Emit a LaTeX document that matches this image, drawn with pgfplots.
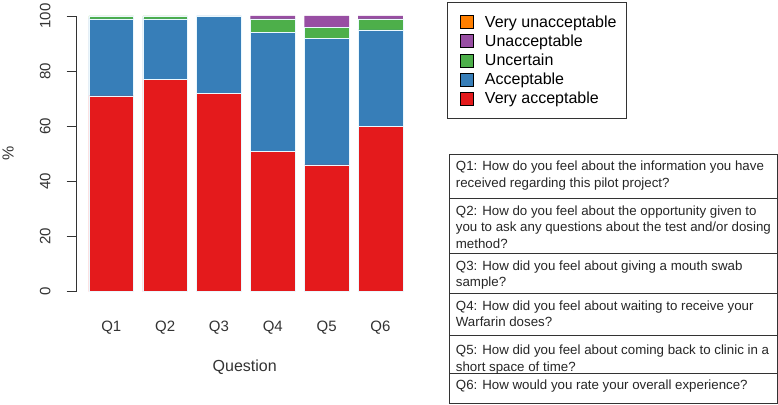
\documentclass[border=0pt]{standalone}
\usepackage{pgfplots}
\pgfplotsset{compat=1.18}
\usepackage{fontspec}
\setmainfont{Liberation Sans}
\definecolor{cRed}{HTML}{E41A1C}
\definecolor{cBlue}{HTML}{377EB8}
\definecolor{cGreen}{HTML}{4DAF4A}
\definecolor{cPurple}{HTML}{984EA3}
\definecolor{cOrange}{HTML}{FF7F00}
\definecolor{axgray}{HTML}{333333}
\begin{document}
\begin{tikzpicture}
\useasboundingbox (0pt,0pt) rectangle (778pt,404pt);
\begin{axis}[
  at={(76.7pt,112.3pt)}, anchor=south west,
  scale only axis, width=336.1pt, height=275.7pt,
  xmin=0.357, xmax=6.6, ymin=0, ymax=100,
  ybar stacked, bar width=0.83,
  /pgf/number format/assume math mode=true,
  axis y line=left, axis x line=bottom,
  x axis line style={draw=none},
  y axis line style={-, line width=0.9pt, axgray},
  xtick={1,2,3,4,5,6}, xticklabels={Q1,Q2,Q3,Q4,Q5,Q6},
  xtick style={draw=none},
  ytick={0,20,40,60,80,100},
  ytick style={line width=0.9pt, axgray},
  tick align=outside, major tick length=10pt,
  yticklabel shift=16pt,
  yticklabel style={rotate=90, anchor=south, inner sep=0pt, font=\fontsize{15}{15}\selectfont, text=axgray},
  xticklabel style={anchor=base, inner sep=0pt, yshift=-30pt, font=\fontsize{15}{15}\selectfont, text=axgray},
  xlabel={Question},
  xlabel style={at={(axis description cs:0.5,0)}, anchor=base, yshift=-80pt, font=\fontsize{16}{16}\selectfont, text=axgray},
  ylabel={\%},
  ylabel style={at={(axis description cs:-0.204,0.5)}, anchor=center, font=\fontsize{16}{16}\selectfont, text=axgray},
  reverse legend,
  legend image code/.code={\path (-4.8pt,0pt); \draw[#1, draw=black, line width=0.6pt] (0pt,-6.5pt) rectangle (13pt,6.5pt);},
  legend style={at={(1.1009,1.0519)}, anchor=north west, draw=axgray, line width=0.8pt,
    font=\fontsize{16}{16}\selectfont, inner xsep=8pt, inner ysep=12pt,
    nodes={inner sep=1.5pt}, column sep=10pt, row sep=3pt, cells={anchor=west}},
  every axis plot/.append style={draw=white!92!cyan, line width=0.5pt},
]
\addplot[fill=cRed] coordinates {(1,71) (2,77) (3,72) (4,51) (5,46) (6,60)};
\addplot[fill=cBlue] coordinates {(1,28) (2,22) (3,28) (4,43) (5,46) (6,35)};
\addplot[fill=cGreen] coordinates {(1,1) (2,1) (3,0) (4,5) (5,4) (6,4)};
\addplot[fill=cPurple, draw=none] coordinates {(1,0) (2,0) (3,0) (4,1) (5,4) (6,1)};
\addplot[fill=cOrange, draw=none] coordinates {(1,0) (2,0) (3,0) (4,0) (5,0) (6,0)};
\legend{Very acceptable, Acceptable, Uncertain, Unacceptable, Very unacceptable}
\end{axis}
% question table
\draw[axgray, line width=0.8pt] (449pt,250pt) rectangle (777.3pt,0.8pt);
\foreach \yy in {205.7,150.7,110.7,68.3,30.7} {
  \draw[axgray, line width=0.8pt] (449pt,\yy pt) -- (777.3pt,\yy pt);
}
\begin{scope}[every node/.style={anchor=base west, align=left, inner sep=0pt, font=\fontsize{13.3}{16.5}\selectfont, text=black!85}]
\node at (455.7pt,216.5pt) {Q1: How do you feel about the information you have\\received regarding this pilot project?};
\node at (455.7pt,155.7pt) {Q2: How do you feel about the opportunity given to\\you to ask any questions about the test and/or dosing\\method?};
\node at (455.7pt,117.2pt) {Q3: How did you feel about giving a mouth swab\\sample?};
\node at (455.7pt,77.2pt) {Q4: How did you feel about waiting to receive your\\Warfarin doses?};
\node at (455.7pt,32.5pt) {Q5: How did you feel about coming back to clinic in a\\short space of time?};
\node at (455.7pt,14.2pt) {Q6: How would you rate your overall experience?};
\end{scope}
\end{tikzpicture}
\end{document}
